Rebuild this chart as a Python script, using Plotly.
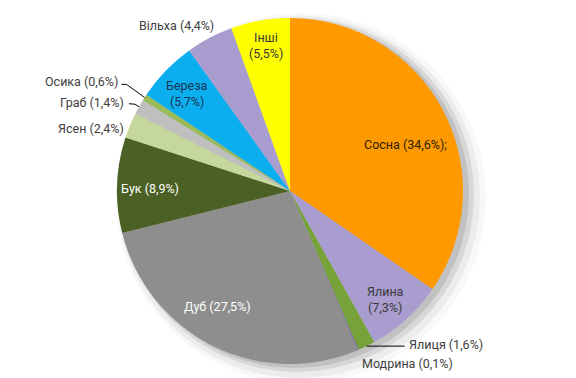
import math
import plotly.graph_objects as go

# ---- data ----
species = ["Сосна", "Ялина", "Ялиця", "Модрина", "Дуб", "Бук", "Ясен",
           "Граб", "Осика", "Береза", "Вільха", "Інші"]
shares = [34.6, 7.3, 1.6, 0.1, 27.5, 8.9, 2.4, 1.4, 0.6, 5.7, 4.4, 5.5]
share_text = ["34,6%", "7,3%", "1,6%", "0,1%", "27,5%", "8,9%", "2,4%",
              "1,4%", "0,6%", "5,7%", "4,4%", "5,5%"]

# ---- style ----
colors = ["#FF9900", "#A99DD0", "#77A23A", "#6F5FA0", "#8E8E8E", "#4B6024",
          "#C5D79D", "#BFBFBF", "#9BBB59", "#0BAFF0", "#A99DD0", "#FFFF00"]
W, H = 576, 378
CX, CY, R = 290, 191, 173
FS = 12.5

def dom(cx, cy, r):
    return dict(x=[(cx - r) / W, (cx + r) / W], y=[1 - (cy + r) / H, 1 - (cy - r) / H])

fig = go.Figure()
fig.add_trace(go.Pie(values=shares, labels=species, sort=False, direction="clockwise",
                     rotation=0, marker=dict(colors=colors, line=dict(width=0)),
                     textinfo="none", showlegend=False, domain=dom(CX, CY, R)))

shapes = []
# soft shadow layers (below the pie)
for dx, dy, dr, op in [(11, 7, 12, 0.08), (9, 6, 8, 0.14), (7, 4, 4, 0.28), (5, 3, 1, 0.40)]:
    shapes.append(dict(type="circle", xref="x", yref="y", layer="below",
                       x0=CX + dx - R - dr, x1=CX + dx + R + dr,
                       y0=CY + dy - R - dr, y1=CY + dy + R + dr,
                       fillcolor="#A0A0A0", opacity=op, line=dict(width=0)))

total = sum(shares)
mids = []
acc = 0
for v in shares:
    mids.append((acc + v / 2) / total * 360)
    acc += v

def pt(ang, rf):
    a = math.radians(ang)
    return CX + rf * R * math.sin(a), CY - rf * R * math.cos(a)

def px(x, y):
    return x / W, 1 - y / H

ann = []
def add_text(x, y, text, color, xanchor="center", size=FS):
    xx, yy = px(x, y)
    ann.append(dict(x=xx, y=yy, xref="paper", yref="paper", text=text, showarrow=False,
                    xanchor=xanchor, yanchor="middle",
                    font=dict(family="Roboto", size=size, color=color)))

# inside labels: (index, radial factor, angle offset, color, two-line)
inside = [(0, 0.717, 5.9, "#2B2100", False),
          (1, 0.836, 1.2, "#3A3A3A", True),
          (4, 0.788, 5.9, "#FFFFFF", False),
          (5, 0.81, -0.8, "#FFFFFF", False),
          (9, 0.818, -0.8, "#153552", True),
          (11, 0.855, 0.6, "#3A3A3A", True)]
for i, rf, off, col, two in inside:
    x, y = pt(mids[i] + off, rf)
    if two:
        add_text(x, y - 8, species[i], col)
        add_text(x, y + 8, "(" + share_text[i] + ")", col)
    else:
        add_text(x, y, species[i] + " (" + share_text[i] + ")" + (";" if i == 0 else ""), col)

def line(points):
    path = "M " + " L ".join(f"{x},{y}" for x, y in points)
    shapes.append(dict(type="path", xref="x", yref="y", path=path,
                       line=dict(color="#000000", width=1)))

outc = "#404040"
# Ялиця
ex, ey = pt(mids[2], 1.0)
line([(ex, ey), (ex + 38, ey)])
add_text(ex + 40, ey - 2, species[2] + " (" + share_text[2] + ")", outc, "left")
# Модрина
ex, ey = pt(mids[3], 1.0)
add_text(ex + 2, ey + 14, species[3] + " (" + share_text[3] + ")", outc, "left")
# Ясен
ex, ey = pt(mids[6], 1.0)
add_text(ex - 4, ey + 3, species[6] + " (" + share_text[6] + ")", outc, "right")
# Граб
ex, ey = pt(mids[7], 1.0)
line([(ex, ey), (ex - 4, ey - 2.5), (ex - 10, ey - 3)])
add_text(ex - 13, ey - 4, species[7] + " (" + share_text[7] + ")", outc, "right")
# Осика
ex, ey = pt(mids[8], 1.0)
line([(ex, ey), (ex - 18, ey - 13), (ex - 23, ey - 13)])
add_text(ex - 25, ey - 16, species[8] + " (" + share_text[8] + ")", outc, "right")
# Вільха
ex, ey = pt(mids[10], 1.0)
add_text(ex + 6, ey - 12, species[10] + " (" + share_text[10] + ")", outc, "right")

fig.update_layout(width=W, height=H, margin=dict(l=0, r=0, t=0, b=0),
                  paper_bgcolor="white", plot_bgcolor="rgba(0,0,0,0)",
                  annotations=ann, shapes=shapes,
                  xaxis=dict(range=[0, W], visible=False, fixedrange=True, domain=[0, 1]),
                  yaxis=dict(range=[H, 0], visible=False, fixedrange=True, domain=[0, 1]))
fig.write_html("out.html", config={"displayModeBar": False},
               post_script="document.body.style.margin='0';")
